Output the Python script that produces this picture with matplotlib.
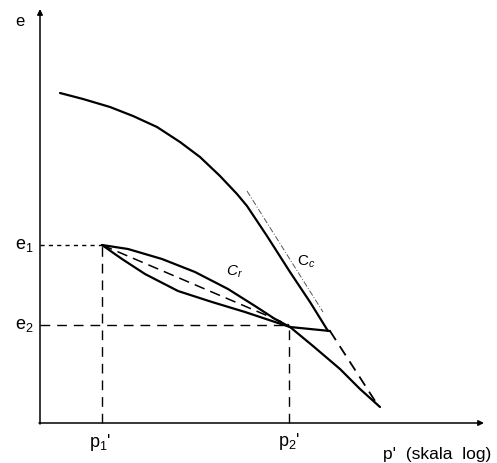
import numpy as np
import matplotlib.pyplot as plt

plt.rcParams['font.family'] = ['Liberation Sans', 'DejaVu Sans']
plt.rcParams['mathtext.fontset'] = 'custom'
plt.rcParams['mathtext.rm'] = 'Liberation Sans'
plt.rcParams['mathtext.it'] = 'Liberation Sans:italic'

# schematic e - log p' diagram, units are arbitrary (origin at the axes corner)
virgin_x = [20, 43, 70, 93, 117, 140, 160, 180, 197, 207, 227, 250, 270, 288]
virgin_y = [330, 324, 316, 307, 296, 281, 266, 247, 229, 217, 187, 151, 121, 92]

back_x = [250, 290]
back_y = [96, 92]

ext_x = [290, 337]
ext_y = [92, 19]

cont_x = [250, 273, 300, 320, 340]
cont_y = [96, 77, 54, 34, 16]

upper_x = [62, 88, 122, 155, 188, 215, 235, 250]
upper_y = [178, 174, 164, 151, 134, 117, 104, 96]

lower_x = [62, 82, 105, 138, 172, 205, 232, 250]
lower_y = [178, 164, 149, 132, 121, 111, 102, 96]

tan_x = [207, 283]
tan_y = [232, 111]

p1, p2 = 62, 249
e1, e2 = 178, 98

fig = plt.figure(figsize=(4.97, 4.64), dpi=100)
ax = fig.add_axes([0, 0, 1, 1])
ax.set_xlim(-40, 457)
ax.set_ylim(-40, 424)
ax.axis('off')

# axes with arrows
ax.annotate('', xy=(0, 414), xytext=(0, -1),
            arrowprops=dict(arrowstyle='-|>', lw=1.1, color='black',
                            mutation_scale=8, shrinkA=0, shrinkB=0))
ax.annotate('', xy=(444, 0), xytext=(-1, 0),
            arrowprops=dict(arrowstyle='-|>', lw=1.1, color='black',
                            mutation_scale=8, shrinkA=0, shrinkB=0))

k = 'black'
line = dict(color=k, lw=1.6, solid_capstyle='round', solid_joinstyle='round')
ax.plot(virgin_x, virgin_y, **line)
ax.plot(back_x, back_y, **line)
ax.plot(cont_x, cont_y, **line)
ax.plot(upper_x, upper_y, **line)
ax.plot(lower_x, lower_y, **line)
ax.plot(ext_x, ext_y, color=k, lw=1.3, dashes=(6, 4))
ax.plot([p1, p2], [e1, e2], color=k, lw=1.1, dashes=(7, 4))
ax.plot(tan_x, tan_y, color='#555555', lw=0.7, dashes=(6, 2, 1, 2))

# guide lines
ax.plot([0, p1], [e1, e1], color=k, lw=1.0, dashes=(3, 3))
ax.plot([0, p2], [e2, e2], color=k, lw=1.0, dashes=(7, 5))
ax.plot([p1, p1], [0, e1], color=k, lw=1.0, dashes=(7, 5))
ax.plot([p2, p2], [0, e2], color=k, lw=1.0, dashes=(7, 5))

fs = 13
ax.text(-20, 402, 'e', fontsize=12, ha='center', va='center')
ax.text(-16, 178, r'e$_1$', fontsize=fs, ha='center', va='center')
ax.text(-16, 98, r'e$_2$', fontsize=fs, ha='center', va='center')
ax.text(p1 - 2, -19, r"p$_1$'", fontsize=fs, ha='center', va='center')
ax.text(p2, -18, r"p$_2$'", fontsize=fs, ha='center', va='center')
ax.text(397, -31, "p'  (skala  log)", fontsize=12.5, ha='center', va='center')
ax.text(194, 152, r'$C_r$', fontsize=11, ha='center', va='center')
ax.text(266, 162, r'C$_c$', fontsize=11, ha='center', va='center')

fig.savefig('out.png', dpi=100)
